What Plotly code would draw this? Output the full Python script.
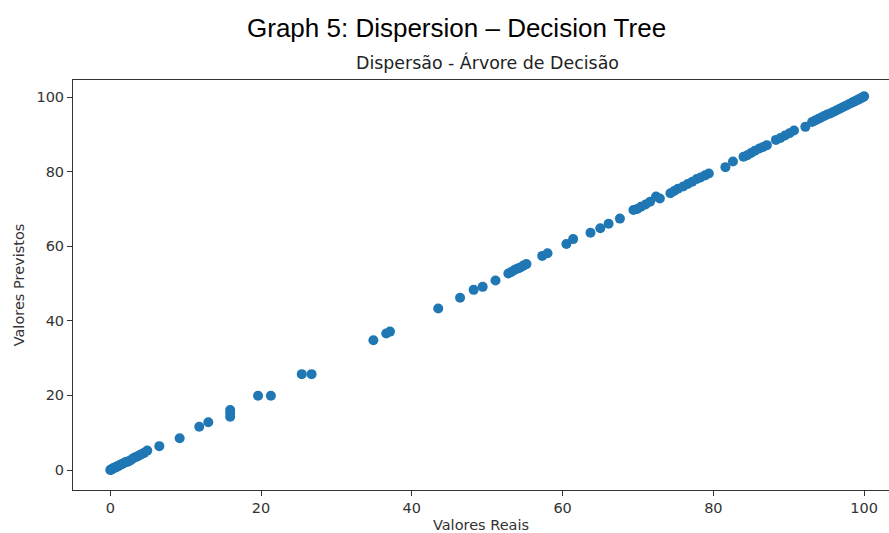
import plotly.graph_objects as go

valores_reais = [
    0.0, 0.05, 0.1, 0.2, 0.3, 0.4, 0.5, 0.7, 0.9, 1.0, 1.2, 1.4, 1.6, 1.8, 2.0, 2.2, 2.4, 2.7,
    3.0, 3.3, 3.6, 3.9, 4.2, 4.5, 4.9,
    6.5, 9.2, 11.8, 13.0, 15.9, 15.9, 15.9, 19.6, 21.3, 25.4, 26.7, 34.9, 36.6, 37.1,
    43.5, 46.4, 48.2, 49.4, 51.1,
    52.8, 53.2, 53.6, 54.0, 54.4, 54.8, 55.2, 57.3, 58.0, 60.5, 61.4, 63.7, 65.0, 66.1, 67.6,
    69.4, 69.9, 70.4, 71.0, 71.6, 72.4, 72.9, 74.3, 74.8, 75.3, 76.0, 76.6, 77.2, 77.8, 78.3,
    78.9, 79.4,
    81.6, 82.6, 84.0, 84.5, 85.0, 85.5, 86.1, 86.6, 87.1, 88.3, 88.9, 89.5, 90.1, 90.7, 92.2,
    93.1, 93.5, 93.9, 94.3, 94.7, 95.1, 95.5, 95.9, 96.3, 96.7, 97.1, 97.5, 97.9, 98.3, 98.6,
    98.9, 99.2, 99.5, 99.7, 99.9, 100.0,
]
valores_previstos = [
    0.0, 0.1, 0.1, 0.2, 0.4, 0.4, 0.6, 0.7, 0.9, 1.1, 1.2, 1.5, 1.6, 1.9, 2.1, 2.2, 2.3, 2.6,
    3.1, 3.4, 3.6, 4.0, 4.3, 4.6, 5.2,
    6.4, 8.5, 11.6, 12.8, 16.1, 15.3, 14.3, 19.9, 19.9, 25.7, 25.7, 34.8, 36.6, 37.1,
    43.3, 46.2, 48.3, 49.1, 50.8,
    52.7, 53.1, 53.6, 54.0, 54.3, 54.8, 55.2, 57.4, 58.1, 60.6, 61.9, 63.6, 64.8, 66.0, 67.4,
    69.7, 70.0, 70.6, 71.2, 71.9, 73.3, 72.8, 74.2, 74.8, 75.4, 76.0, 76.7, 77.3, 78.0, 78.4,
    79.0, 79.5,
    81.2, 82.7, 84.0, 84.4, 85.0, 85.6, 86.2, 86.6, 87.1, 88.5, 89.0, 89.7, 90.3, 91.0, 92.0,
    93.3, 93.7, 94.1, 94.5, 94.9, 95.3, 95.6, 96.0, 96.4, 96.8, 97.2, 97.6, 98.0, 98.4, 98.7,
    99.0, 99.3, 99.6, 99.8, 100.0, 100.2,
]

x_ticks = [0, 20, 40, 60, 80, 100]
y_ticks = [0, 20, 40, 60, 80, 100]

fig = go.Figure()
fig.add_trace(go.Scatter(
    x=valores_reais, y=valores_previstos, mode="markers",
    marker=dict(color="#1f77b4", size=10, line=dict(width=0)),
    showlegend=False, hoverinfo="skip",
))

axis_font = dict(family="DejaVu Sans", size=14.5, color="#333333")
W, H = 889, 533
L, R, T, B = 73, 0, 80, 43
pw, ph = W - L - R, H - T - B
fig.update_layout(
    width=W, height=H,
    margin=dict(l=L, r=R, t=T, b=B),
    paper_bgcolor="white", plot_bgcolor="white",
    xaxis=dict(
        range=[-4.95, 103.3], tickvals=x_ticks, showgrid=False, zeroline=False,
        showline=True, linecolor="#333333", linewidth=1, mirror=True,
        ticks="outside", ticklen=5, tickcolor="#333333", tickfont=axis_font,
        title=dict(text="Valores Reais", font=axis_font, standoff=4),
    ),
    yaxis=dict(
        range=[-5.36, 104.56], tickvals=y_ticks, showgrid=False, zeroline=False,
        showline=True, linecolor="#333333", linewidth=1,
        ticks="outside", ticklen=5, tickcolor="#333333", tickfont=axis_font,
        title=dict(text="Valores Previstos", font=axis_font, standoff=8),
    ),
    annotations=[
        dict(text="Graph 5: Dispersion – Decision Tree", x=(456 - L) / pw, xref="paper",
             y=1 + (T - 28) / ph, yref="paper", yanchor="middle", showarrow=False,
             font=dict(family="Liberation Sans", size=26, color="#000000")),
        dict(text="Dispersão - Árvore de Decisão", x=(487 - L) / pw, xref="paper", y=1,
             yref="paper", yanchor="bottom", yshift=5, showarrow=False,
             font=dict(family="DejaVu Sans", size=17.4, color="#222222")),
    ],
)

fig.write_html(
    "out.html",
    config={"displayModeBar": False},
    post_script="document.body.style.margin='0';document.body.style.overflow='hidden';",
)
